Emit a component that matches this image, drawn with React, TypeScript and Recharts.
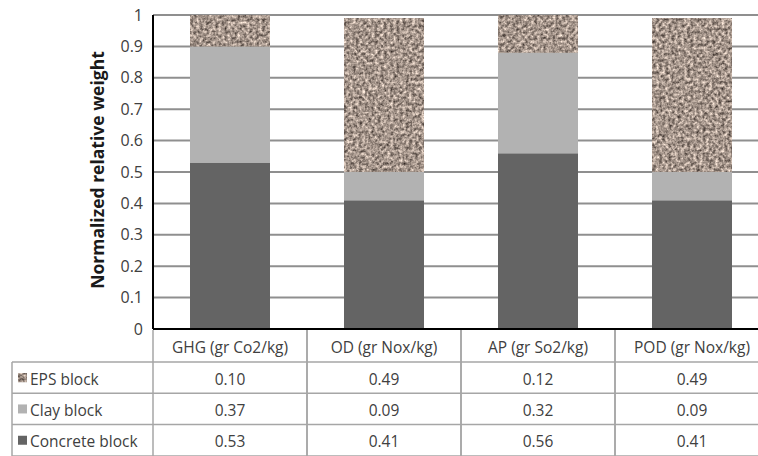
import React from "react";
import { BarChart, Bar, XAxis, YAxis, CartesianGrid } from "recharts";

const categories = ["GHG (gr Co2/kg)", "OD (gr Nox/kg)", "AP (gr So2/kg)", "POD (gr Nox/kg)"];
const concreteValues = [0.53, 0.41, 0.56, 0.41];
const clayValues = [0.37, 0.09, 0.32, 0.09];
const epsValues = [0.10, 0.49, 0.12, 0.49];
const yTicks = [0, 0.1, 0.2, 0.3, 0.4, 0.5, 0.6, 0.7, 0.8, 0.9, 1];
const seriesNames = { eps: "EPS block", clay: "Clay block", concrete: "Concrete block" };

const data = categories.map((c, i) => ({
  name: c,
  concrete: concreteValues[i],
  clay: clayValues[i],
  eps: epsValues[i],
}));

const W = 780;
const H = 456;
const TOP = 15;
const LEFT = 153;
const XAXIS_H = 127;
const PLOT_W = 616;
const PLOT_BOTTOM = H - XAXIS_H;
const COL_W = PLOT_W / categories.length;
const ROW_H = 31.3;
const HEADER_H = 33;
const LINE = "#a6a6a6";
const TEXT = "#404040";
const FONT = "'Open Sans', sans-serif";
const CONCRETE = "#646464";
const CLAY = "#b2b2b2";
const TABLE_FS = 15.5;

const rows = [
  { key: "eps", label: seriesNames.eps, values: epsValues },
  { key: "clay", label: seriesNames.clay, values: clayValues },
  { key: "concrete", label: seriesNames.concrete, values: concreteValues },
];

const GraniteRect = ({ x, y, width, height }: any) => (
  <g>
    <rect x={x} y={y} width={width} height={height} fill="#a0948a" />
    <rect x={x} y={y} width={width} height={height} fill="#fff" filter="url(#granite)" />
  </g>
);

const TableTick = (props: any) => {
  const { x, payload, index } = props;
  const i = index ?? categories.indexOf(payload.value);
  const y0 = PLOT_BOTTOM;
  const left = x - COL_W / 2;
  const right = x + COL_W / 2;
  const rowTops = [y0 + HEADER_H, y0 + HEADER_H + ROW_H, y0 + HEADER_H + 2 * ROW_H, y0 + HEADER_H + 3 * ROW_H];
  const els: any[] = [];
  els.push(<line key="vl" x1={left} x2={left} y1={y0 + 1} y2={H} stroke={LINE} strokeWidth={1.5} />);
  els.push(<line key="vr" x1={right} x2={right} y1={y0 + 1} y2={H} stroke={LINE} strokeWidth={1.5} />);
  rowTops.forEach((ry, k) => {
    els.push(<line key={"h" + k} x1={left} x2={right} y1={ry} y2={ry} stroke={LINE} strokeWidth={1.5} />);
  });
  els.push(
    <text key="hdr" x={x} y={y0 + HEADER_H / 2 + 1} textAnchor="middle" dominantBaseline="central" fontSize={TABLE_FS} fill={TEXT} fontFamily={FONT}>
      {payload.value}
    </text>
  );
  rows.forEach((r, k) => {
    els.push(
      <text key={"v" + k} x={x} y={rowTops[k] + ROW_H / 2 + 1} textAnchor="middle" dominantBaseline="central" fontSize={TABLE_FS} fill={TEXT} fontFamily={FONT}>
        {r.values[i].toFixed(2)}
      </text>
    );
  });
  if (i === 0) {
    const lx = 12;
    els.push(<line key="ll" x1={lx} x2={lx} y1={rowTops[0]} y2={H} stroke={LINE} strokeWidth={1.5} />);
    rowTops.forEach((ry, k) => {
      els.push(<line key={"lh" + k} x1={lx} x2={left} y1={ry} y2={ry} stroke={LINE} strokeWidth={1.5} />);
    });
    rows.forEach((r, k) => {
      const cy = rowTops[k] + ROW_H / 2;
      const sw = 9;
      if (r.key === "eps") {
        els.push(<GraniteRect key={"ic" + k} x={18} y={cy - sw / 2} width={sw} height={sw} />);
      } else {
        els.push(<rect key={"ic" + k} x={18} y={cy - sw / 2} width={sw} height={sw} fill={r.key === "clay" ? CLAY : CONCRETE} />);
      }
      els.push(
        <text key={"lt" + k} x={30} y={cy + 1} dominantBaseline="central" fontSize={TABLE_FS} fill={TEXT} fontFamily={FONT}>
          {r.label}
        </text>
      );
    });
  }
  return <g>{els}</g>;
};

const YLabel = (props: any) => {
  const vb = props.viewBox || { y: TOP, height: PLOT_BOTTOM - TOP };
  const cy = vb.y + vb.height / 2 - 2;
  return (
    <text x={97} y={cy} transform={`rotate(-90, 97, ${cy})`} textAnchor="middle" dominantBaseline="central" fontSize={17.5} fontWeight="bold" fill="#1a1a1a" fontFamily={FONT}>
      Normalized relative weight
    </text>
  );
};

export default function App() {
  return (
    <div style={{ position: "absolute", left: 0, top: 0, width: 758, height: 456, overflow: "hidden", background: "#fff" }}>
      <svg width={0} height={0} style={{ position: "absolute" }}>
        <defs>
          <filter id="granite" x="0" y="0" width="100%" height="100%" colorInterpolationFilters="sRGB">
            <feTurbulence type="fractalNoise" baseFrequency="0.32" numOctaves={3} seed={4} result="n" />
            <feColorMatrix in="n" type="matrix" values="1.05 0 0 0 0.12  1.0 0 0 0 0.085  0.95 0 0 0 0.07  0 0 0 0 1" result="c" />
            <feComposite in="c" in2="SourceGraphic" operator="in" />
          </filter>
        </defs>
      </svg>
      <BarChart width={W} height={H} data={data} margin={{ top: TOP, right: W - LEFT - PLOT_W, bottom: 0, left: 0 }}>
        <CartesianGrid vertical={false} stroke="#8f8f8f" strokeWidth={2} />
        <XAxis
          dataKey="name"
          height={XAXIS_H}
          interval={0}
          tickLine={false}
          tickSize={0}
          axisLine={{ stroke: "#000", strokeWidth: 2 }}
          tick={<TableTick />}
        />
        <YAxis
          width={LEFT}
          domain={[0, 1]}
          ticks={yTicks}
          allowDataOverflow
          tickLine={false}
          tickSize={0}
          tickMargin={10}
          axisLine={{ stroke: "#000", strokeWidth: 2 }}
          tick={{ fill: TEXT, fontSize: 16, fontFamily: FONT }}
          label={<YLabel />}
        />
        <Bar dataKey="concrete" stackId="a" fill={CONCRETE} barSize={80} isAnimationActive={false} />
        <Bar dataKey="clay" stackId="a" fill={CLAY} barSize={80} isAnimationActive={false} />
        <Bar dataKey="eps" stackId="a" fill="#a0948a" barSize={80} isAnimationActive={false} shape={<GraniteRect />} />
      </BarChart>
    </div>
  );
}
